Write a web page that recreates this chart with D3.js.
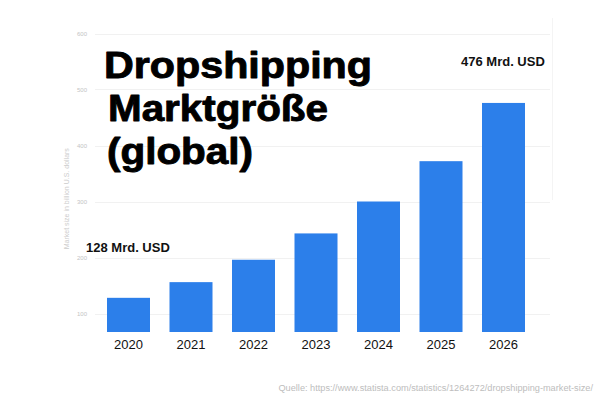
<!DOCTYPE html>
<html><head><meta charset="utf-8">
<script src="https://cdn.jsdelivr.net/npm/d3@7"></script>
<style>html,body{margin:0;padding:0;background:#fff;}svg{display:block;}</style>
</head><body>
<svg id="c" width="600" height="400"></svg>
<script>
const years = ["2020","2021","2022","2023","2024","2025","2026"];
const marketSize = [128, 156, 196, 243, 300, 372, 476];
const yTicks = [100, 200, 300, 400, 500, 600];
const titleLines = ["Dropshipping", "Marktgröße", "(global)"];
const annotations = [{year:"2020", text:"128 Mrd. USD"}, {year:"2026", text:"476 Mrd. USD"}];
const yAxisTitle = "Market size in billion U.S. dollars";
const sourceText = "Quelle: https://www.statista.com/statistics/1264272/dropshipping-market-size/";

const svg = d3.select("#c");
const plotBottom = 332;
const y = d3.scaleLinear().domain([0, 600]).range([369.5, 33.5]);
const x = d3.scaleBand().domain(years).range([97.25, 534.75]).paddingInner(0.312).paddingOuter(0.156);
const font = "Liberation Sans, Arial, sans-serif";

// gridlines
svg.append("g").selectAll("line").data(yTicks).join("line")
  .attr("x1", 95).attr("x2", 550)
  .attr("y1", d => Math.round(y(d)) + 0.5).attr("y2", d => Math.round(y(d)) + 0.5)
  .attr("stroke", "#f1f1f1").attr("stroke-width", 1);
svg.append("line").attr("x1", 552.5).attr("x2", 552.5).attr("y1", 18).attr("y2", 200)
  .attr("stroke", "#f4f4f4");

// y axis tick labels
const yAxis = d3.axisLeft(y).tickValues(yTicks).tickSize(0).tickPadding(0);
const ga = svg.append("g").attr("transform", "translate(87,0)").call(yAxis);
ga.select(".domain").remove();
ga.selectAll("text").attr("fill", "#c4c4c4").style("font-size", "6px").style("font-family", font);

svg.append("text").attr("transform", `translate(69,${y(305)}) rotate(-90)`)
  .attr("text-anchor", "middle").attr("fill", "#cccccc")
  .style("font-size", "7px").style("font-family", font)
  .text(yAxisTitle);

// bars
svg.append("g").selectAll("rect").data(years).join("rect")
  .attr("x", d => x(d)).attr("width", x.bandwidth())
  .attr("y", (d, i) => y(marketSize[i]))
  .attr("height", (d, i) => plotBottom - y(marketSize[i]))
  .attr("fill", "#2c7fea");

// x axis labels
const xAxis = d3.axisBottom(x).tickSize(0).tickPadding(0);
const gx = svg.append("g").attr("transform", "translate(0,340)").call(xAxis);
gx.select(".domain").remove();
gx.selectAll("text").attr("fill", "#111").attr("dy", "0.71em").attr("y", 0)
  .style("font-size", "13px").style("font-family", font);

// title
const titleX = [104, 108, 107];
const titleW = [268, 220, 146];
titleLines.forEach((t, i) => {
  svg.append("text").attr("x", titleX[i]).attr("y", 78 + i * 43)
    .attr("textLength", titleW[i]).attr("lengthAdjust", "spacingAndGlyphs")
    .attr("fill", "#000").attr("stroke", "#000").attr("stroke-width", 0.9)
    .attr("stroke-linejoin", "round")
    .style("font-size", "36px").style("font-weight", "bold")
    .style("font-family", font).text(t);
});

// annotations
const annPos = {"2020": {x: 86, y: 252}, "2026": {x: 461, y: 66}};
svg.append("g").selectAll("text").data(annotations).join("text")
  .attr("x", d => annPos[d.year].x).attr("y", d => annPos[d.year].y)
  .attr("fill", "#111").style("font-size", "13px").style("font-weight", "bold")
  .style("font-family", font)
  .text(d => d.text);

// source
svg.append("text").attr("x", 593).attr("y", 391).attr("text-anchor", "end")
  .attr("fill", "#bdbdbd").style("font-size", "9.2px")
  .style("font-family", font).text(sourceText);
</script>
</body></html>
